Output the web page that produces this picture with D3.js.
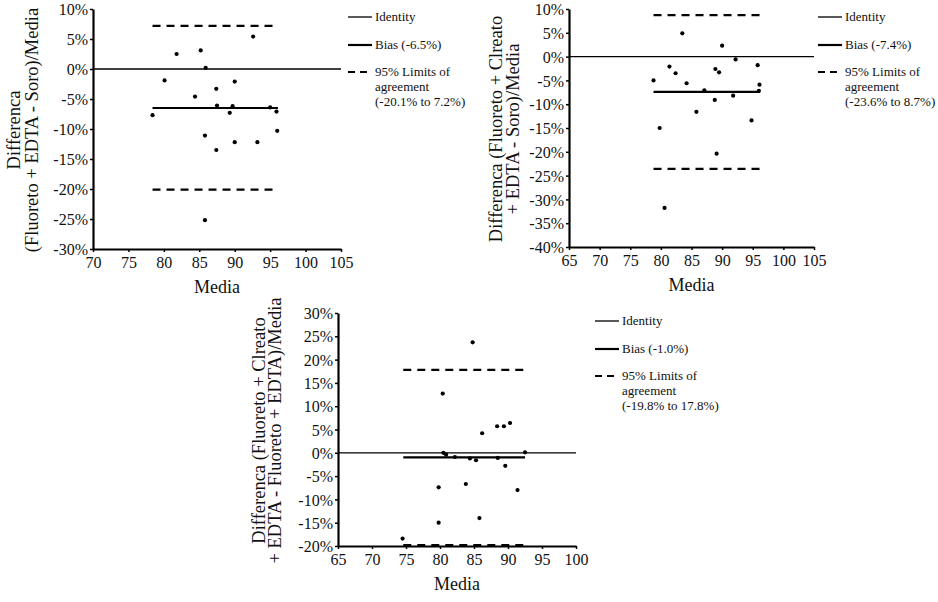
<!DOCTYPE html>
<html>
<head>
<meta charset="utf-8">
<script src="https://cdn.jsdelivr.net/npm/d3@7"></script>
<style>
  body { margin: 0; background: #fff; }
  #chart text { font-family: "Liberation Serif", "Times New Roman", serif !important; fill: #111; }
</style>
</head>
<body>
<svg id="chart" width="938" height="602"></svg>
<script>
// panel 1: (Fluoreto + EDTA - Soro)
const media1 = [78.4, 81.8, 80.1, 85.2, 85.9, 84.4, 87.4, 90.0, 87.5, 89.7, 89.3, 92.6, 95.0, 95.9, 96.0, 85.8, 90.0, 93.2, 87.4, 85.8];
const diff1 = [-7.7, 2.5, -1.9, 3.1, 0.2, -4.6, -3.3, -2.1, -6.1, -6.2, -7.3, 5.4, -6.4, -7.1, -10.3, -11.1, -12.2, -12.2, -13.5, -25.2];
// panel 2: (Fluoreto + Clreato + EDTA - Soro)
const media2 = [78.8, 79.8, 81.4, 82.4, 83.5, 84.2, 80.6, 85.8, 87.1, 88.9, 89.5, 90.0, 88.8, 89.1, 91.8, 92.2, 94.8, 95.8, 96.1, 96.0];
const diff2 = [-5.0, -15.0, -2.1, -3.5, 4.9, -5.6, -31.8, -11.6, -7.1, -2.6, -3.3, 2.3, -9.1, -20.4, -8.2, -0.6, -13.4, -1.8, -5.9, -7.2];
// panel 3: (Fluoreto + Clreato + EDTA - Fluoreto + EDTA)
const media3 = [74.5, 79.8, 79.8, 80.4, 80.5, 80.9, 82.2, 83.8, 84.4, 84.8, 85.3, 85.8, 86.2, 88.4, 88.5, 89.4, 89.6, 90.3, 91.4, 92.5];
const diff3 = [-18.4, -7.4, -15.0, 12.7, 0.0, -0.4, -0.9, -6.7, -1.2, 23.7, -1.6, -14.0, 4.2, 5.7, -1.1, 5.7, -2.8, 6.4, -8.0, 0.1];

const bias = [-6.5, -7.4, -1.0];
const limits = [[-20.1, 7.2], [-23.6, 8.7], [-19.8, 17.8]];
const mediaSpan = [[78.4, 96.1], [78.8, 96.2], [74.6, 92.5]];

const xDomains = [[70, 105], [65, 105], [65, 100]];
const yDomains = [[-30, 10], [-40, 10], [-20, 30]];

const yTitles = [
  ["Differenca", "(Fluoreto + EDTA - Soro)/Media"],
  ["Differenca (Fluoreto + Clreato", "+ EDTA - Soro)/Media"],
  ["Differenca (Fluoreto + Clreato", "+ EDTA - Fluoreto + EDTA)/Media"]
];
const legendLabels = [
  ["Identity", "Bias (-6.5%)", "95% Limits of", "agreement", "(-20.1% to 7.2%)"],
  ["Identity", "Bias (-7.4%)", "95% Limits of", "agreement", "(-23.6% to 8.7%)"],
  ["Identity", "Bias (-1.0%)", "95% Limits of", "agreement", "(-19.8% to 17.8%)"]
];

// panel frames in page pixels
const frames = [
  { x0: 93, x1: 341, y0: 9, y1: 249, titleX: [13, 31], legendX: 348 },
  { x0: 569, x1: 814, y0: 9, y1: 247, titleX: [495, 512], legendX: 818 },
  { x0: 338, x1: 576, y0: 313, y1: 546, titleX: [258, 274], legendX: 595 }
];

const panels = [
  { media: media1, diff: diff1 },
  { media: media2, diff: diff2 },
  { media: media3, diff: diff3 }
];

const svg = d3.select("#chart");

const label = (sel, size) => sel.style("font-size", `${size}px`);

const drawPanel = (p, i) => {
  const f = frames[i];
  const x = d3.scaleLinear().domain(xDomains[i]).range([f.x0, f.x1]);
  const y = d3.scaleLinear().domain(yDomains[i]).range([f.y1, f.y0]);
  const g = svg.append("g").attr("class", "panel");

  g.append("g")
    .attr("transform", `translate(0,${f.y1})`)
    .call(d3.axisBottom(x).ticks(8).tickSize(3).tickSizeOuter(0))
    .call(a => a.select(".domain").attr("stroke-width", 2.2))
    .call(a => a.selectAll(".tick line").attr("stroke-width", 1.5))
    .call(a => a.selectAll(".tick text").attr("y", 5).attr("dy", "0.85em").call(label, 16));

  g.append("g")
    .attr("transform", `translate(${f.x0},0)`)
    .call(d3.axisLeft(y).ticks(10).tickSize(3).tickSizeOuter(0).tickFormat(d => `${d}%`))
    .call(a => a.select(".domain").attr("stroke-width", 2.2))
    .call(a => a.selectAll(".tick line").attr("stroke-width", 1.5))
    .call(a => a.selectAll(".tick text").attr("x", -5).attr("dy", "0.35em").call(label, 16));

  const [m0, m1] = mediaSpan[i];

  // identity
  g.append("line")
    .attr("x1", x(xDomains[i][0])).attr("x2", x(xDomains[i][1]))
    .attr("y1", y(0)).attr("y2", y(0))
    .attr("stroke", "#000").attr("stroke-width", 1.3);

  // bias
  g.append("line")
    .attr("x1", x(m0)).attr("x2", x(m1))
    .attr("y1", y(bias[i])).attr("y2", y(bias[i]))
    .attr("stroke", "#000").attr("stroke-width", 2.2);

  // limits of agreement
  g.selectAll(".loa")
    .data(limits[i])
    .join("line")
    .attr("class", "loa")
    .attr("x1", x(m0)).attr("x2", x(m1))
    .attr("y1", d => y(d)).attr("y2", d => y(d))
    .attr("stroke", "#000").attr("stroke-width", 2.2)
    .attr("stroke-dasharray", "8,6");

  g.selectAll(".pt")
    .data(p.media.map((m, k) => [m, p.diff[k]]))
    .join("circle")
    .attr("class", "pt")
    .attr("cx", d => x(d[0]))
    .attr("cy", d => y(d[1]))
    .attr("r", 2.1)
    .attr("fill", "#000");

  // axis titles
  g.append("text")
    .attr("x", (f.x0 + f.x1) / 2)
    .attr("y", f.y1 + 44)
    .attr("text-anchor", "middle")
    .call(label, 18)
    .text("Media");

  const cy = (f.y0 + f.y1) / 2 + 1;
  yTitles[i].forEach((t, k) => {
    g.append("text")
      .attr("transform", `translate(${f.titleX[k] + 7},${cy}) rotate(-90)`)
      .attr("text-anchor", "middle")
      .call(label, 18.5)
      .text(t);
  });

  // legend
  const lg = g.append("g").attr("transform", `translate(${f.legendX},${f.y0 + 8})`);
  const rows = [
    { y: 0, w: 1.3, dash: null },
    { y: 28, w: 2.2, dash: null },
    { y: 55, w: 2.2, dash: "7,5" }
  ];
  rows.forEach((r, k) => {
    lg.append("line")
      .attr("x1", 0).attr("x2", 24)
      .attr("y1", r.y).attr("y2", r.y)
      .attr("stroke", "#000").attr("stroke-width", r.w)
      .attr("stroke-dasharray", r.dash);
    lg.append("text")
      .attr("x", 27).attr("y", r.y + 4)
      .call(label, 13)
      .text(legendLabels[i][k]);
  });
  lg.append("text").attr("x", 27).attr("y", 74).call(label, 13).text(legendLabels[i][3]);
  lg.append("text").attr("x", 27).attr("y", 89).call(label, 13).text(legendLabels[i][4]);
};

panels.forEach(drawPanel);
</script>
</body>
</html>
